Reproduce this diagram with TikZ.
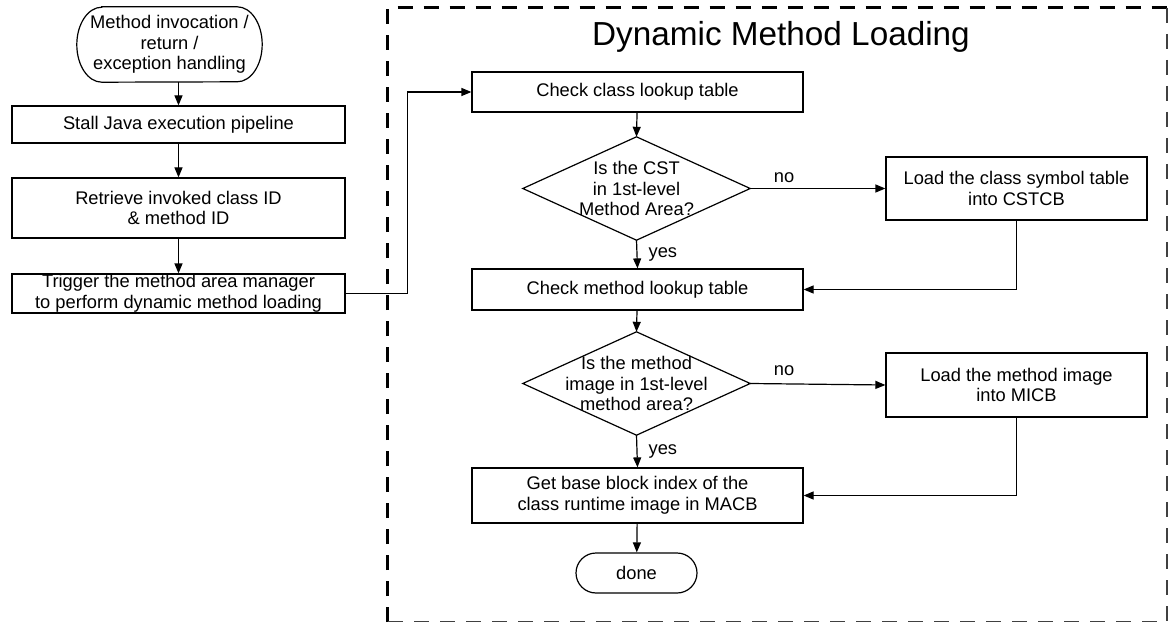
\documentclass[tikz,border=0pt]{standalone}
\usepackage{fontspec}
\setmainfont{Liberation Sans}
\usetikzlibrary{arrows.meta,calc}

\tikzset{
  every node/.style={font=\fontsize{18.3}{20.5}\selectfont, align=center, inner sep=0pt},
  stepbox/.style={draw, line width=1.2pt, rectangle},
  termbox/.style={draw, line width=1.2pt, rectangle},
  decbox/.style={rectangle, draw=none},
  arr/.style={line width=1.2pt, -{Triangle[length=10pt,width=8pt]}},
  link/.style={line width=1.2pt},
  lbl/.style={font=\fontsize{18.3}{20.5}\selectfont},
  framethick/.style={line width=3pt, dash pattern=on 15pt off 11pt},
  framethin/.style={line width=1.2pt, draw=black!75, dash pattern=on 15pt off 11pt},
}

\begin{document}
\begin{tikzpicture}[x=1pt,y=-1pt]
\useasboundingbox (0,0) rectangle (1168,623);

% outer frame of the loading procedure
\draw[framethick] (387.5,622) -- (387.5,8) -- (1167,8);
\draw[framethin] (1167,8) -- (1167,621.5) -- (387.5,621.5);
\node[font=\fontsize{33.3}{36}\selectfont] (title) at (781,37) {Dynamic Method Loading};

% left column
\node[decbox, minimum width=185pt, minimum height=75pt] (start) at (169.5,44.5)
  {Method invocation /\\return /\\exception handling};
% start terminal outline with elliptical ends
\draw[link] ($(start.north west)+(25,0)$) -- ($(start.north east)+(-25,0)$)
  arc[start angle=-90, end angle=90, x radius=25, y radius=37.5]
  -- ($(start.south west)+(25,0)$)
  arc[start angle=90, end angle=270, x radius=25, y radius=37.5] -- cycle;
\node[stepbox, minimum width=333pt, minimum height=37pt] (stall) at (178.5,124.5)
  {Stall Java execution pipeline};
\node[stepbox, minimum width=333pt, minimum height=60pt] (retr) at (178.5,208)
  {Retrieve invoked class ID\\\& method ID};
\node[stepbox, minimum width=333pt, minimum height=39pt] (trig) at (178.5,293.5)
  {Trigger the method area manager\\to perform dynamic method loading};

% loading procedure
\node[stepbox, minimum width=331pt, minimum height=40pt] (ccl) at (637.5,92)
  {Check class lookup table};
\node[decbox, minimum width=227pt, minimum height=103pt] (d1) at (636.5,188.5)
  {Is the CST\\in 1st-level\\Method Area?};
\draw[link] (d1.west) -- (d1.north) -- (d1.east) -- (d1.south) -- cycle;
\node[stepbox, minimum width=261pt, minimum height=63pt] (lcst) at (1016.5,188.5)
  {Load the class symbol table\\into CSTCB};
\node[stepbox, minimum width=331pt, minimum height=41pt] (cml) at (637.5,289.5)
  {Check method lookup table};
\node[decbox, minimum width=227pt, minimum height=103pt] (d2) at (636.5,383.5)
  {Is the method\\image in 1st-level\\method area?};
\draw[link] (d2.west) -- (d2.north) -- (d2.east) -- (d2.south) -- cycle;
\node[stepbox, minimum width=261pt, minimum height=64pt] (lmi) at (1016.5,385)
  {Load the method image\\into MICB};
\node[stepbox, minimum width=331pt, minimum height=55pt] (gb) at (637.5,495.5)
  {Get base block index of the\\class runtime image in MACB};
\node[termbox, rounded corners=20pt, minimum width=121pt, minimum height=40pt] (done) at (636.5,573)
  {done};

% connectors
\draw[arr] (start.south -| stall.north) -- (stall.north);
\draw[arr] (stall) -- (retr);
\draw[arr] (retr) -- (trig);
\draw[arr] (trig.east) -- ++(62,0) |- (ccl.west);
\draw[arr] (ccl) -- (d1.north);
\draw[arr] (d1.east) -- (lcst.west) node[lbl, pos=0.25, yshift=11pt] {no};
\draw[arr] (d1.south) -- (cml.north) node[lbl, midway, anchor=west, xshift=11pt] {yes};
\draw[arr] (lcst.south) |- (cml.east);
\draw[arr] (cml) -- (d2.north);
\draw[arr] (d2.east) -- (lmi.west) node[lbl, pos=0.25, yshift=13pt] {no};
\draw[arr] (d2.south) -- (gb.north) node[lbl, midway, anchor=west, xshift=11pt] {yes};
\draw[arr] (lmi.south) |- (gb.east);
\draw[arr] (gb) -- (done);
\end{tikzpicture}
\end{document}
